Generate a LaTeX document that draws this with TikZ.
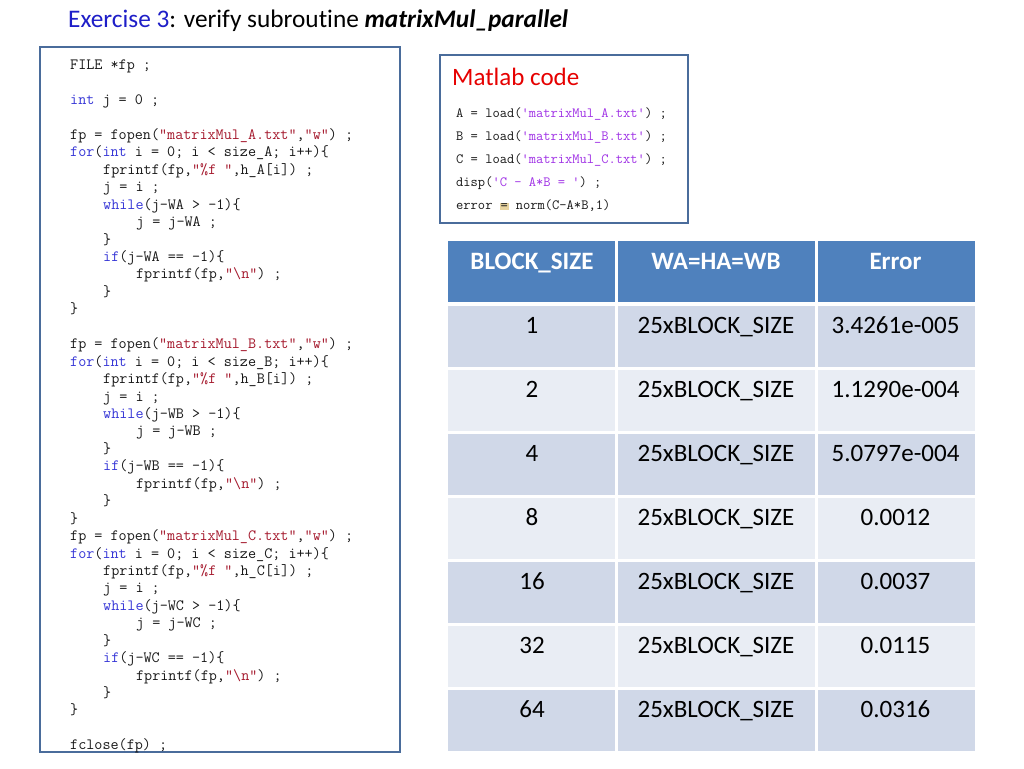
\documentclass[tikz,border=0pt]{standalone}
\usepackage{fontspec}
\setmainfont{Carlito}[Ligatures=NoCommon]
\newfontfamily\codefont{Latin Modern Mono}
\usepackage{tikz}

\definecolor{kwblue}{RGB}{55,55,215}
\definecolor{strred}{RGB}{165,25,45}
\definecolor{mlpurple}{RGB}{160,50,230}
\definecolor{codegray}{RGB}{25,25,25}
\definecolor{frameblue}{RGB}{74,108,155}
\definecolor{headblue}{RGB}{79,129,189}
\definecolor{rowdark}{RGB}{208,216,232}
\definecolor{rowlight}{RGB}{233,237,244}
\definecolor{titleblue}{RGB}{30,30,200}
\definecolor{hlbeige}{RGB}{232,212,160}

\newcommand{\ckw}[1]{\textcolor{kwblue}{#1}}
\newcommand{\cstr}[1]{\textcolor{strred}{#1}}
\newcommand{\mstr}[1]{\textcolor{mlpurple}{#1}}
\newcommand{\cind}[1]{\hspace*{#1\dimexpr0.525em\relax}}

\begin{document}
\begin{tikzpicture}[x=1pt,y=-1pt,
    codeframe/.style={draw=frameblue,line width=2.5pt},
    codetext/.style={anchor=north west,inner sep=0pt,align=left,text=codegray},
    headcell/.style={anchor=base,text=white,font=\fontsize{25}{30}\selectfont\bfseries},
    bodycell/.style={anchor=base,text=black,font=\fontsize{25}{30}\selectfont}]
    \useasboundingbox[fill=white] (0,0) rectangle (1024,768);

    \node[anchor=base west,inner sep=0pt,font=\fontsize{25.3}{30}\selectfont] (title) at (68,28)
        {\textcolor{titleblue}{Exercise 3}: verify subroutine \textbf{\textit{matrixMul\_parallel}}};

    % C code
    \draw[codeframe] (40,47) rectangle (400,752);
    \node[codetext,font=\codefont\fontsize{15.7}{17.44}\selectfont] (ccode) at (70,57.3) {\strut FILE *fp ;\\
~\\
\ckw{int} j = 0 ;\\
~\\
fp = fopen(\cstr{"matrixMul\_A.txt"},\cstr{"w"}) ;\\
\ckw{for}(\ckw{int} i = 0; i < size\_A; i++)\{\\
\cind{4}fprintf(fp,\cstr{"\%f "},h\_A[i]) ;\\
\cind{4}j = i ;\\
\cind{4}\ckw{while}(j-WA > -1)\{\\
\cind{8}j = j-WA ;\\
\cind{4}\}\\
\cind{4}\ckw{if}(j-WA == -1)\{\\
\cind{8}fprintf(fp,\cstr{"\textbackslash n"}) ;\\
\cind{4}\}\\
\}\\
~\\
fp = fopen(\cstr{"matrixMul\_B.txt"},\cstr{"w"}) ;\\
\ckw{for}(\ckw{int} i = 0; i < size\_B; i++)\{\\
\cind{4}fprintf(fp,\cstr{"\%f "},h\_B[i]) ;\\
\cind{4}j = i ;\\
\cind{4}\ckw{while}(j-WB > -1)\{\\
\cind{8}j = j-WB ;\\
\cind{4}\}\\
\cind{4}\ckw{if}(j-WB == -1)\{\\
\cind{8}fprintf(fp,\cstr{"\textbackslash n"}) ;\\
\cind{4}\}\\
\}\\
fp = fopen(\cstr{"matrixMul\_C.txt"},\cstr{"w"}) ;\\
\ckw{for}(\ckw{int} i = 0; i < size\_C; i++)\{\\
\cind{4}fprintf(fp,\cstr{"\%f "},h\_C[i]) ;\\
\cind{4}j = i ;\\
\cind{4}\ckw{while}(j-WC > -1)\{\\
\cind{8}j = j-WC ;\\
\cind{4}\}\\
\cind{4}\ckw{if}(j-WC == -1)\{\\
\cind{8}fprintf(fp,\cstr{"\textbackslash n"}) ;\\
\cind{4}\}\\
\}\\
~\\
fclose(fp) ;};

    % Matlab code
    \draw[codeframe] (440,55) rectangle (688,223);
    \node[anchor=base west,inner sep=0pt,text={rgb,255:red,230;green,0;blue,0},font=\fontsize{25}{30}\selectfont] (mlabel) at (452,85) {Matlab code};
    \node[codetext,font=\codefont\fontsize{14.1}{23}\selectfont] (mcode) at (456,101) {\strut A = load(\mstr{'matrixMul\_A.txt'}) ;\\
B = load(\mstr{'matrixMul\_B.txt'}) ;\\
C = load(\mstr{'matrixMul\_C.txt'}) ;\\
disp(\mstr{'C - A*B = '}) ;\\
error {\setlength{\fboxsep}{0.8pt}\colorbox{hlbeige}{=}} norm(C-A*B,1)};

    % result table
    \fill[headblue] (448,241) rectangle (975,302);
    \fill[rowdark]  (448,306) rectangle (975,367);
    \fill[rowlight] (448,370) rectangle (975,431);
    \fill[rowdark]  (448,434) rectangle (975,495);
    \fill[rowlight] (448,498) rectangle (975,559);
    \fill[rowdark]  (448,562) rectangle (975,623);
    \fill[rowlight] (448,626) rectangle (975,687);
    \fill[rowdark]  (448,690) rectangle (975,751);
    \draw[white,line width=3pt] (616,241) -- (616,751) (816,241) -- (816,751);

    \node[headcell] (hsize) at (532,269) {BLOCK\_SIZE};
    \node[headcell] (hdim) at (716,269) {WA=HA=WB};
    \node[headcell] (herr) at (895.5,269) {Error};

    \node[bodycell] (s1) at (532,333) {1};
    \node[bodycell] (d1) at (716,333) {25xBLOCK\_SIZE};
    \node[bodycell] (e1) at (895.5,333) {3.4261e-005};
    \node[bodycell] (s2) at (532,397) {2};
    \node[bodycell] (d2) at (716,397) {25xBLOCK\_SIZE};
    \node[bodycell] (e2) at (895.5,397) {1.1290e-004};
    \node[bodycell] (s3) at (532,461) {4};
    \node[bodycell] (d3) at (716,461) {25xBLOCK\_SIZE};
    \node[bodycell] (e3) at (895.5,461) {5.0797e-004};
    \node[bodycell] (s4) at (532,525) {8};
    \node[bodycell] (d4) at (716,525) {25xBLOCK\_SIZE};
    \node[bodycell] (e4) at (895.5,525) {0.0012};
    \node[bodycell] (s5) at (532,589) {16};
    \node[bodycell] (d5) at (716,589) {25xBLOCK\_SIZE};
    \node[bodycell] (e5) at (895.5,589) {0.0037};
    \node[bodycell] (s6) at (532,653) {32};
    \node[bodycell] (d6) at (716,653) {25xBLOCK\_SIZE};
    \node[bodycell] (e6) at (895.5,653) {0.0115};
    \node[bodycell] (s7) at (532,717) {64};
    \node[bodycell] (d7) at (716,717) {25xBLOCK\_SIZE};
    \node[bodycell] (e7) at (895.5,717) {0.0316};
\end{tikzpicture}
\end{document}
